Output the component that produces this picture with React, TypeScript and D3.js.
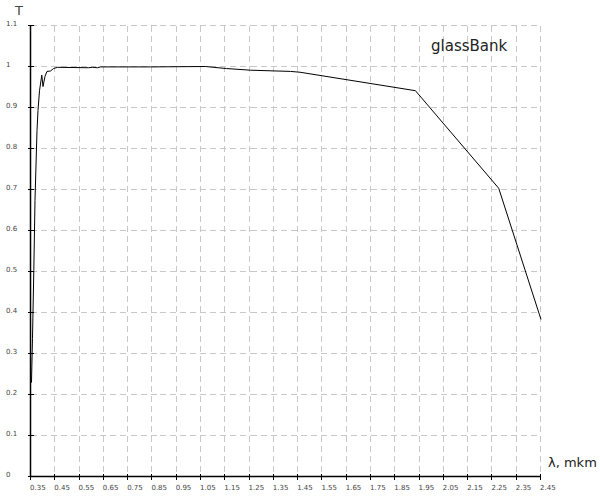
import React from "react";
import * as d3 from "d3";

const wavelengths = [
  0.3541, 0.3582, 0.3636, 0.3685, 0.3768, 0.3809, 0.3871, 0.3965, 0.4015, 0.4097,
  0.4179, 0.4324, 0.4447, 0.4612, 0.5888, 0.6053, 0.6259, 0.6382, 0.844, 1.0706,
  1.157, 1.256, 1.4206, 1.46, 1.935, 2.278, 2.452,
];
const transmission = [
  0.229, 0.337, 0.502, 0.673, 0.844, 0.893, 0.941, 0.979, 0.951, 0.976,
  0.988, 0.989, 0.995, 0.998, 0.997, 0.998, 0.997, 0.999, 0.999, 1.0,
  0.995, 0.991, 0.988, 0.986, 0.941, 0.703, 0.383,
];
const xTicks = d3.range(22).map((i) => 0.35 + i * 0.1);
const yTicks = d3.range(12).map((i) => i * 0.1);
const yTickLabels = ["0", "0.1", "0.2", "0.3", "0.4", "0.5", "0.6", "0.7", "0.8", "0.9", "1", "1.1"];
const seriesName = "glassBank";
const xTitle = "λ, mkm";
const yTitle = "T";

export default function App() {
  const x = d3.scaleLinear().domain([0.35, 2.45]).range([30.5, 540.5]);
  const y = d3.scaleLinear().domain([0, 1.1]).range([476.5, 25.5]);
  const pts: [number, number][] = wavelengths.map((w, i) => [w, transmission[i]]);
  const line = d3
    .line<[number, number]>()
    .x((d) => x(d[0]))
    .y((d) => y(d[1]));
  const font = "DejaVu Sans, Verdana, sans-serif";
  return (
    <svg
      width={600}
      height={500}
      style={{ position: "absolute", left: 0, top: 0, background: "#fff" }}
      fontFamily={font}
    >
      {/* grid */}
      <g stroke="#c8c8c8" strokeWidth={1} strokeDasharray="6,4" fill="none" shapeRendering="crispEdges">
        {xTicks.slice(1).map((t, i) => (
          <line key={"gx" + i} x1={x(t)} x2={x(t)} y1={y(1.1)} y2={y(0)} />
        ))}
        {yTicks.slice(1).map((t, i) => (
          <line key={"gy" + i} x1={x(0.35)} x2={x(2.45)} y1={y(t)} y2={y(t)} />
        ))}
      </g>
      {/* axes */}
      <g stroke="#000" strokeWidth={1.5}>
        <line x1={x(0.35)} x2={x(0.35)} y1={y(1.1)} y2={y(0)} />
        <line x1={x(0.35)} x2={x(2.45)} y1={y(0)} y2={y(0)} />
      </g>
      <g stroke="#000" strokeWidth={1} shapeRendering="crispEdges">
        {yTicks.map((t, i) => (
          <line key={"ty" + i} x1={x(0.35) - 3} x2={x(0.35) + 3} y1={y(t)} y2={y(t)} />
        ))}
        {xTicks.map((t, i) => (
          <line key={"tx" + i} x1={x(t)} x2={x(t)} y1={y(0) - 3} y2={y(0) + 3} />
        ))}
      </g>
      {/* tick labels */}
      <g fill="#444" fontSize={7}>
        {yTicks.map((t, i) => (
          <text key={"ly" + i} x={6} y={y(t) + 0.5}>
            {yTickLabels[i]}
          </text>
        ))}
        {xTicks.map((t, i) => (
          <text key={"lx" + i} x={x(t) - 0.5} y={490}>
            {t.toFixed(2)}
          </text>
        ))}
      </g>
      {/* titles */}
      <text x={15} y={15} fontSize={13} fill="#444">
        {yTitle}
      </text>
      <text x={548} y={467} fontSize={13} fill="#222">
        {xTitle}
      </text>
      <text x={431} y={51} fontSize={15} fill="#222">
        {seriesName}
      </text>
      {/* curve */}
      <path d={line(pts) || ""} fill="none" stroke="#000" strokeWidth={1} />
    </svg>
  );
}
